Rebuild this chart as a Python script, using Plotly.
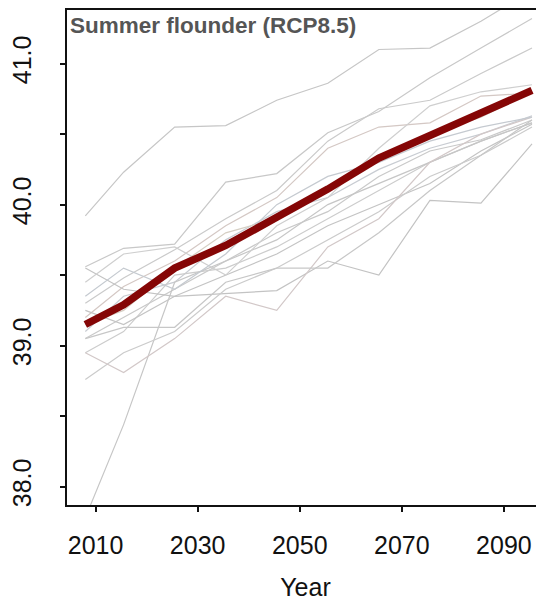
import plotly.graph_objects as go

years = [2008, 2015.5, 2025.5, 2035.5, 2045.5, 2055.5, 2065.5, 2075.5, 2085.5, 2095.5]

mean_series = [39.15, 39.29, 39.55, 39.71, 39.91, 40.11, 40.33, 40.49, 40.64, 40.81]

g01 = [39.92, 40.23, 40.55, 40.56, 40.74, 40.86, 41.10, 41.11, 41.30, 41.52]
g02 = [39.56, 39.69, 39.72, 40.16, 40.22, 40.51, 40.66, 40.90, 41.11, 41.32]
g03 = [39.30, 39.48, 39.68, 39.90, 40.10, 40.45, 40.68, 40.74, 40.93, 41.11]
g04 = [39.20, 39.42, 39.60, 39.85, 40.05, 40.40, 40.55, 40.58, 40.77, 40.79]
g05 = [39.10, 39.35, 39.45, 39.75, 39.95, 40.05, 40.25, 40.40, 40.50, 40.63]
g06 = [39.05, 39.20, 39.40, 39.60, 39.80, 39.95, 40.20, 40.38, 40.46, 40.60]
g07 = [38.95, 39.10, 39.50, 39.55, 39.70, 39.90, 40.10, 40.30, 40.45, 40.58]
g08 = [39.25, 39.15, 39.35, 39.50, 39.65, 39.85, 40.00, 40.15, 40.38, 40.57]
g09 = [39.55, 39.40, 39.35, 39.37, 39.39, 39.60, 39.50, 40.03, 40.01, 40.43]
g10 = [37.78, 38.44, 39.45, 39.60, 39.75, 40.00, 40.15, 40.30, 40.45, 40.58]
g11 = [38.76, 38.95, 39.10, 39.40, 39.55, 39.75, 39.95, 40.20, 40.35, 40.55]
g12 = [38.95, 38.81, 39.05, 39.35, 39.25, 39.70, 39.90, 40.30, 40.50, 40.62]
g13 = [39.05, 39.13, 39.13, 39.45, 39.55, 39.55, 39.80, 40.10, 40.35, 40.60]
g14 = [39.45, 39.65, 39.70, 39.50, 39.85, 40.05, 40.40, 40.70, 40.80, 40.85]
g15 = [39.15, 39.25, 39.55, 39.80, 39.90, 40.10, 40.35, 40.50, 40.62, 40.80]
g16 = [39.35, 39.55, 39.40, 39.65, 40.00, 40.20, 40.30, 40.45, 40.55, 40.62]

gray_series = [g01, g02, g03, g04, g05, g06, g07, g08, g09, g10, g11, g12, g13, g14, g15, g16]
gray_colors = ["#c6c6c6", "#c8c8c8", "#cacaca", "#d4c8c4", "#c8ccd2", "#c9c9c9",
               "#cccccc", "#c4c4c4", "#c3c3c3", "#c6c6c6", "#cbcbcb", "#d2c8c8",
               "#c7c7c7", "#cfcfcf", "#d6cfc4", "#c5cad0"]

y_tick_vals = [38.0, 38.5, 39.0, 39.5, 40.0, 40.5, 41.0]
y_tick_text = ["38.0", "", "39.0", "", "40.0", "", "41.0"]
x_tick_vals = [2010, 2030, 2050, 2070, 2090]
x_tick_text = ["2010", "2030", "2050", "2070", "2090"]

title_text = "Summer flounder (RCP8.5)"
x_title = "Year"

fig = go.Figure()
for s, c in zip(gray_series, gray_colors):
    fig.add_trace(go.Scatter(x=years, y=s, mode="lines",
                             line=dict(color=c, width=1.2), hoverinfo="skip"))
fig.add_trace(go.Scatter(x=years, y=mean_series, mode="lines",
                         line=dict(color="#850606", width=7.5)))

font_family = "Liberation Sans, Arial, sans-serif"

fig.update_layout(
    width=536, height=598,
    margin=dict(l=56, r=0, t=1, b=101),
    paper_bgcolor="white", plot_bgcolor="white",
    showlegend=False,
    font=dict(family=font_family, color="#111111", size=25),
    xaxis=dict(range=[2004.41, 2097.85], tickvals=x_tick_vals, ticktext=x_tick_text,
               showgrid=False, zeroline=False, showline=True, linecolor="#111111",
               linewidth=2, mirror=True, ticks="outside", ticklen=5, tickwidth=1.5,
               tickcolor="#111111", ticklabelstandoff=12,
               tickfont=dict(size=25, family=font_family, color="#111111"),
               title=dict(text=x_title, font=dict(size=25, family=font_family, color="#111111"),
                          standoff=20)),
    yaxis=dict(range=[37.87, 41.38], tickvals=y_tick_vals, ticktext=y_tick_text,
               showgrid=False, zeroline=False, showline=True, linecolor="#111111",
               linewidth=2, ticks="outside", ticklen=5, tickwidth=1.5,
               tickcolor="#111111", tickangle=-90, ticklabelstandoff=19,
               tickfont=dict(size=25, family=font_family, color="#111111")),
    annotations=[dict(text="<b>" + title_text + "</b>", xref="paper", yref="paper",
                      x=0.0, y=1.0, xanchor="left", yanchor="top", showarrow=False,
                      yshift=-1, xshift=1,
                      font=dict(size=22.5, family=font_family, color="#555555"))],
)

fig.write_html("out.html")
